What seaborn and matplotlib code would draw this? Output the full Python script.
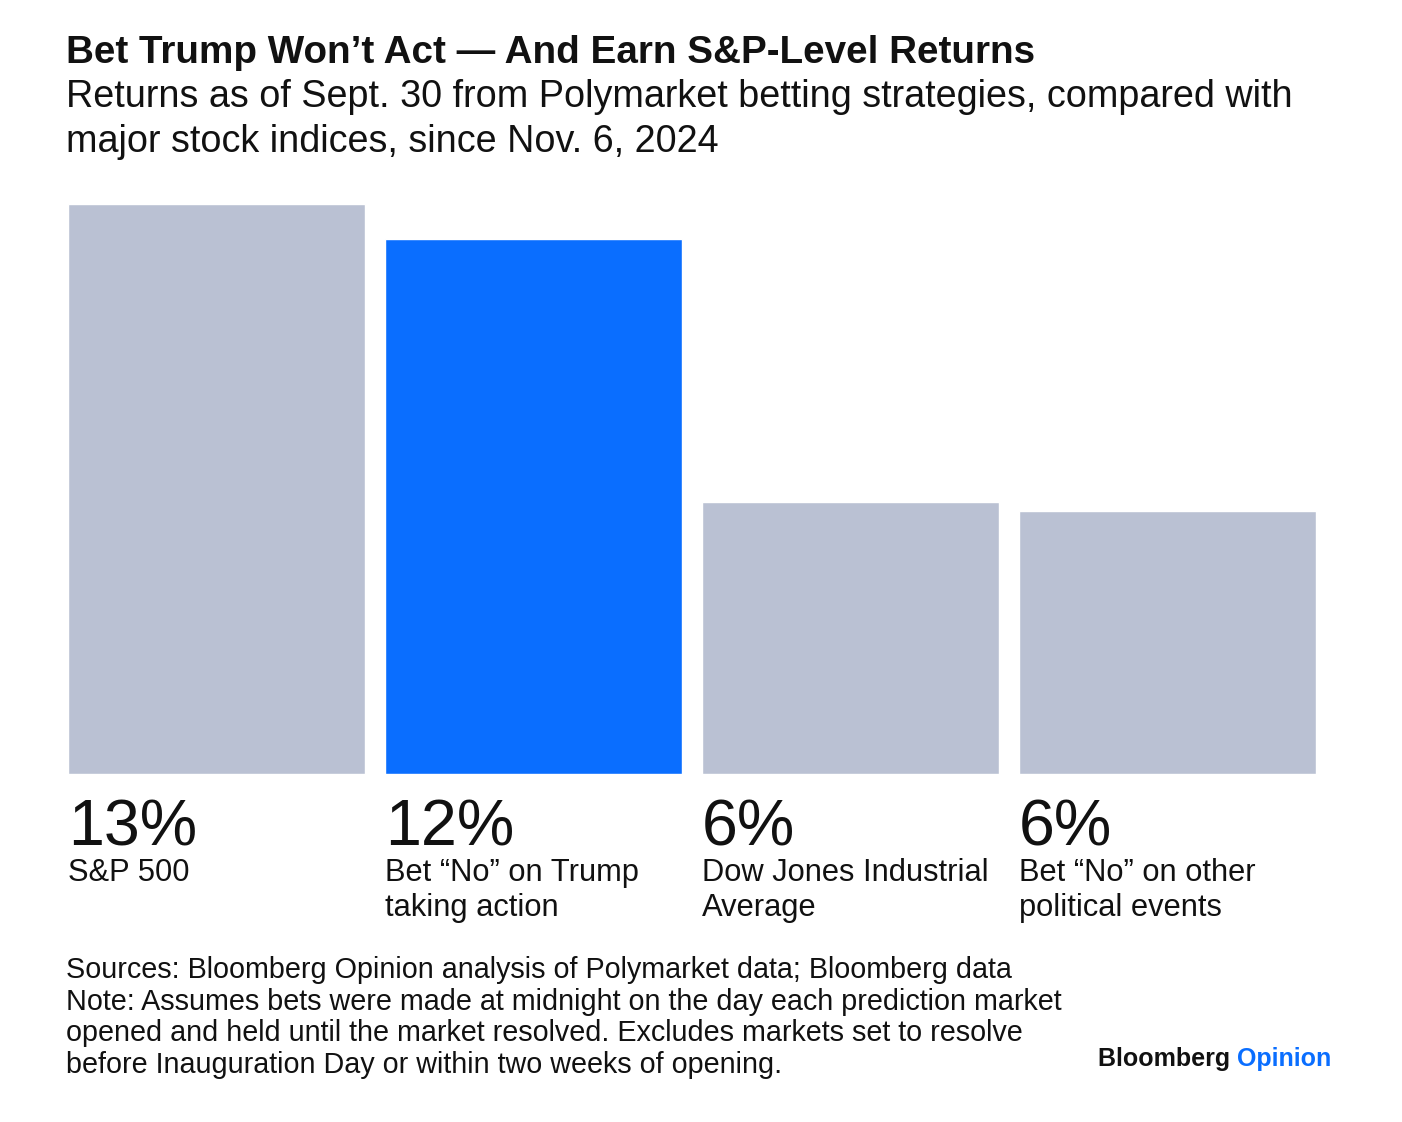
import matplotlib
matplotlib.use("Agg")
import matplotlib.pyplot as plt
import matplotlib.transforms as mtransforms
import seaborn as sns
import pandas as pd

# Chart data
categories = ["S&P 500", "Bet No Trump", "Dow Jones", "Bet No other"]
returns = [13.0, 12.2, 6.2, 6.0]
value_labels = ["13%", "12%", "6%", "6%"]
bar_labels = [["S&P 500"],
              ["Bet \u201cNo\u201d on Trump", "taking action"],
              ["Dow Jones Industrial", "Average"],
              ["Bet \u201cNo\u201d on other", "political events"]]
bar_colors = ["#BAC1D3", "#0A6EFF", "#BAC1D3", "#BAC1D3"]

title = "Bet Trump Won\u2019t Act \u2014 And Earn S&P-Level Returns"
subtitle = ["Returns as of Sept. 30 from Polymarket betting strategies, compared with",
            "major stock indices, since Nov. 6, 2024"]
footnote = ["Sources: Bloomberg Opinion analysis of Polymarket data; Bloomberg data",
            "Note: Assumes bets were made at midnight on the day each prediction market",
            "opened and held until the market resolved. Excludes markets set to resolve",
            "before Inauguration Day or within two weeks of opening."]

df = pd.DataFrame({"category": categories, "value": returns})

sns.set_theme(style="white")
plt.rcParams["font.family"] = ["Liberation Sans", "DejaVu Sans"]

W, H = 1402, 1122
fig = plt.figure(figsize=(W / 100, H / 100), dpi=100)
fig.patch.set_facecolor("white")


def fy(px):
    # pixel row from top -> figure fraction
    return 1 - px / H


# axes placed in pixel terms
left, right, top, bottom = 68, 1316, 204, 774
ax = fig.add_axes([left / W, fy(bottom), (right - left) / W, (bottom - top) / H])

bar_w = 0.937
sns.barplot(data=df, x="category", y="value", hue="category",
            palette=dict(zip(categories, bar_colors)), width=bar_w,
            legend=False, ax=ax, saturation=1)
ax.set_xlim(-bar_w / 2, len(categories) - 1 + bar_w / 2)
ax.set_ylim(0, max(returns))
ax.axis("off")

# labels under bars: x in data coords, y in figure coords
trans = mtransforms.blended_transform_factory(ax.transData, fig.transFigure)
for i, (v, lab) in enumerate(zip(value_labels, bar_labels)):
    x0 = i - bar_w / 2
    ax.text(x0, fy(845), v, transform=trans, fontsize=46.5, ha="left",
            va="baseline", color="#111111", clip_on=False)
    for j, line in enumerate(lab):
        ax.text(x0, fy(881 + 35 * j), line, transform=trans, fontsize=22.2,
                ha="left", va="baseline", color="#111111", clip_on=False)

# title and subtitle
fig.text(66 / W, fy(63), title, fontsize=27.8, fontweight="bold",
         ha="left", va="baseline", color="#111111")
for j, line in enumerate(subtitle):
    fig.text(66 / W, fy(107 + 45 * j), line, fontsize=27.2,
             ha="left", va="baseline", color="#111111")

# footnote
for j, line in enumerate(footnote):
    fig.text(66 / W, fy(978 + 31.7 * j), line, fontsize=20.7,
             ha="left", va="baseline", color="#111111")

# logo text
t1 = fig.text(1098 / W, fy(1066), "Bloomberg ", fontsize=18, fontweight="bold",
              ha="left", va="baseline", color="#111111")
fig.canvas.draw()
bb = t1.get_window_extent()
fig.text(bb.x1 / W, fy(1066), "Opinion", fontsize=18, fontweight="bold",
         ha="left", va="baseline", color="#0A6EFF")

fig.savefig("out.png", dpi=100, facecolor="white")
